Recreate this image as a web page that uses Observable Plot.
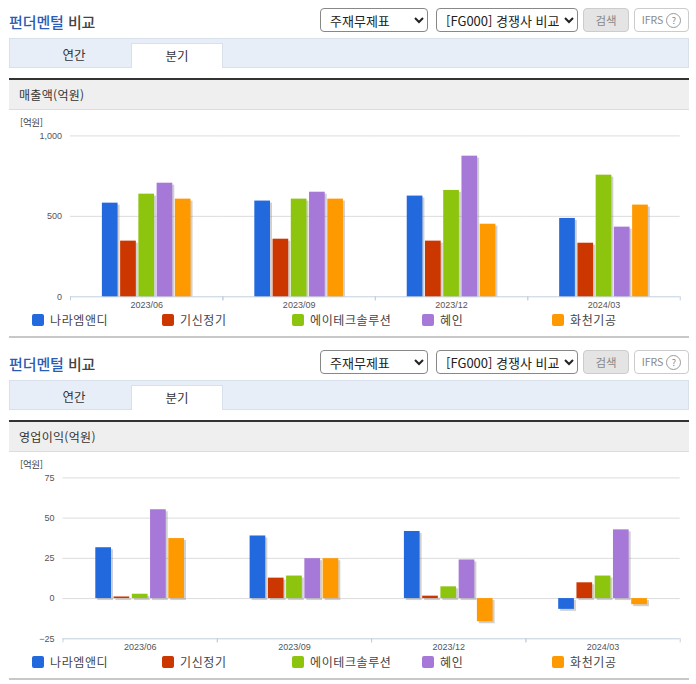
<!DOCTYPE html>
<html lang="ko">
<head>
<meta charset="utf-8">
<script src="https://cdn.jsdelivr.net/npm/d3@7"></script>
<script src="https://cdn.jsdelivr.net/npm/@observablehq/plot@0.6"></script>
<style>
html,body{margin:0;padding:0;background:#fff;}
body{width:696px;height:684px;position:relative;overflow:hidden;font-family:"Noto Sans CJK KR","Noto Sans",sans-serif;color:#333;}
.abs{position:absolute;box-sizing:border-box;}
.title{left:9px;font-size:15px;font-weight:500;line-height:20px;letter-spacing:-.1px;color:#444;}
.title b{font-weight:500;color:#2b5cb5;}
select{position:absolute;box-sizing:border-box;height:24px;font:13px "Noto Sans CJK KR",sans-serif;color:#222;background:#fff;border:1px solid #888;border-radius:4px;padding:0 2px 0 5px;}
.btn{height:24px;border-radius:4px;text-align:center;font-size:11.5px;line-height:22px;}
.tabbar{left:9px;width:680px;height:30px;background:#e8eef8;border:1px solid #d8e0ec;}
.tab{width:92px;height:25px;font-size:12.5px;line-height:24px;text-align:center;color:#333;}
.tab.on{background:#fff;border:1px solid #d8e0ec;border-bottom:none;}
.dark{left:9px;width:680px;height:2px;background:#333;}
.head{left:9px;width:680px;height:30px;background:#efefef;border-bottom:1px solid #ddd;font-size:12px;line-height:30px;padding-left:10px;letter-spacing:.3px;}
.unit{left:20px;font-size:9.5px;line-height:12px;color:#444;letter-spacing:-.3px;}
.swatch{width:12px;height:12px;border-radius:2px;}
.leg{font-size:12px;line-height:16px;color:#444;letter-spacing:.6px;white-space:nowrap;}
.rule{left:9px;width:680px;height:2px;background:#c8c8c8;}
svg{position:absolute;overflow:visible;}
</style>
</head>
<body>
<script>
const periods = ["2023/06", "2023/09", "2023/12", "2024/03"];
const names = ["나라엠앤디", "기신정기", "에이테크솔루션", "혜인", "화천기공"];
const colors = ["#2369de", "#cc3700", "#8cc40e", "#a678d8", "#ff9900"];

const revenueNara = [582, 595, 626, 487];
const revenueKishin = [346, 358, 346, 333];
const revenueATech = [638, 607, 661, 756];
const revenueHyein = [706, 650, 874, 433];
const revenueHwacheon = [607, 607, 451, 570];

const profitNara = [31.6, 38.9, 41.7, -6.7];
const profitKishin = [1, 12.7, 1.5, 9.8];
const profitATech = [2.7, 14, 7.3, 14];
const profitHyein = [55.2, 24.8, 24, 42.7];
const profitHwacheon = [37.3, 24.8, -14.4, -3.8];

const revenueTicks = [0, 500, 1000];
const profitTicks = [-25, 0, 25, 50, 75];
const pageTitleBlue = "펀더멘털";
const pageTitleRest = " 비교";

function table(series) {
  return periods.flatMap((period, i) =>
    names.map((name, k) => ({period, name, value: series[k][i]})));
}

function addHtml(cls, left, top, html, extra) {
  const el = document.createElement("div");
  el.className = "abs " + cls;
  if (left !== null) el.style.left = left + "px";
  el.style.top = top + "px";
  el.innerHTML = html;
  if (extra) el.style.cssText += extra;
  document.body.appendChild(el);
  return el;
}

function addSelect(left, top, width, label) {
  const s = document.createElement("select");
  s.style.left = left + "px"; s.style.top = top + "px"; s.style.width = width + "px";
  s.innerHTML = "<option>" + label + "</option>";
  document.body.appendChild(s);
}

function section(off, heading) {
  addHtml("title", null, 12 + off, "<b>" + pageTitleBlue + "</b>" + pageTitleRest);
  addSelect(320, 8 + off, 108, "주재무제표");
  addSelect(436, 8 + off, 142, "[FG000] 경쟁사 비교");
  addHtml("btn", 583, 8 + off, "검색", "width:46px;background:#e4e4e4;border:1px solid #ccc;color:#888;");
  addHtml("btn", 634, 8 + off, "IFRS <span style='display:inline-block;width:13px;height:13px;border:1px solid #999;border-radius:50%;font-size:9px;line-height:13px;'>?</span>",
    "width:55px;background:#fff;border:1px solid #ccc;color:#888;font-size:10.5px;");
  addHtml("tabbar", null, 38 + off, "");
  addHtml("tab", 28, 43 + off, "연간", "width:92px;");
  addHtml("tab on", 131, 43 + off, "분기");
  addHtml("dark", null, 78 + off, "");
  addHtml("head", null, 80 + off, heading);
  addHtml("unit", null, 116 + off, "[억원]");
  names.forEach((n, i) => {
    addHtml("swatch", 32 + 130 * i, 314 + off, "", "background:" + colors[i] + ";");
    addHtml("leg", 50 + 130 * i, 312 + off, n);
  });
  addHtml("rule", null, 336 + off, "");
}

function chart(data, ticks, top, marginLeft, paddingOuter, barInset) {
  const marginRight = 16.3;
  const lo = ticks[0], hi = ticks[ticks.length - 1];
  const tickDrop = (hi - lo) * 0.025;
  const svg = Plot.plot({
    width: 696, height: 190,
    marginTop: 9.4, marginBottom: 19.7, marginLeft, marginRight,
    style: {background: "transparent", fontFamily: "'Liberation Sans',sans-serif", fontSize: "9px", color: "#555"},
    fx: {domain: periods, padding: 0, label: null, round: false},
    x: {domain: names, axis: null, paddingInner: 0.14, paddingOuter, round: false},
    y: {domain: [lo, hi], label: null, ticks: ticks, tickSize: 0, tickPadding: 8.5, tickFormat: d3.format(",")},
    color: {domain: names, range: colors},
    marks: [
      Plot.ruleY(ticks.slice(1), {y: d => d, stroke: "#dcdcdc", strokeWidth: 1, strokeOpacity: 1}),
      Plot.ruleY([lo], {stroke: "#c0d0e0", strokeWidth: 1, strokeOpacity: 1}),
      Plot.ruleX([names[0]], {x: d => d, dx: -barInset, y1: lo, y2: lo - tickDrop, stroke: "#c0d0e0", strokeOpacity: 1}),
      Plot.ruleX([names[4]], {x: d => d, dx: barInset, y1: lo, y2: lo - tickDrop, stroke: "#c0d0e0", strokeOpacity: 1}),
      Plot.barY(data, {fx: "period", x: "name", y: "value", fill: "#8a8a8a", fillOpacity: 0.4, dx: 2, dy: 2, clip: true}),
      Plot.barY(data, {fx: "period", x: "name", y: "value", fill: "name"}),
      Plot.axisFx({anchor: "bottom", tickSize: 0, tickPadding: 5, label: null, fontSize: 9})
    ]
  });
  svg.style.left = "0px";
  svg.style.top = top + "px";
  document.body.appendChild(svg);
}

section(0, "매출액(억원)");
section(342, "영업이익(억원)");
chart(table([revenueNara, revenueKishin, revenueATech, revenueHyein, revenueHwacheon]), revenueTicks, 126, 70, 1.748, 39.75);
chart(table([profitNara, profitKishin, profitATech, profitHyein, profitHwacheon]), profitTicks, 468, 62.5, 1.797, 40.65);
</script>
</body>
</html>
